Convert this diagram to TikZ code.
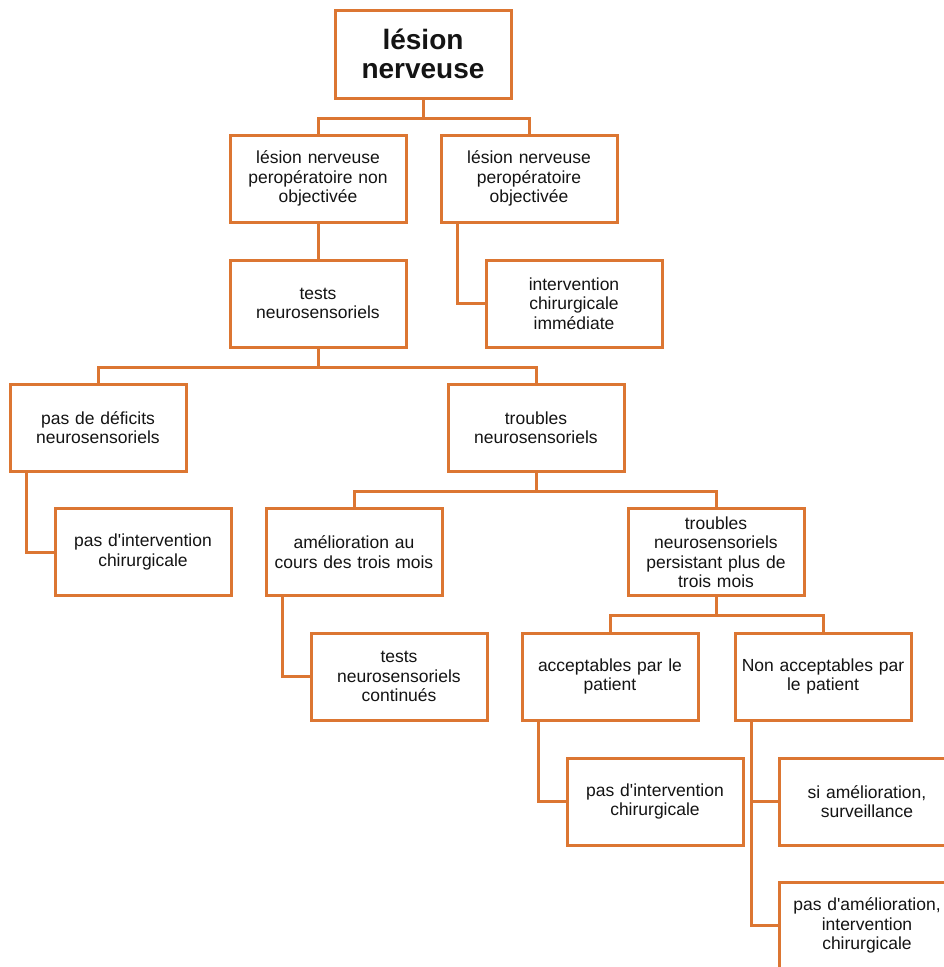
\documentclass[tikz,border=0pt]{standalone}
\usepackage{fontspec}
\setmainfont{Liberation Sans}
\definecolor{lineor}{RGB}{220,118,50}
\definecolor{txt}{RGB}{20,20,20}
\newcommand{\apos}{\textquotesingle}
\tikzset{
  box/.style={draw=lineor, line width=3pt, fill=white, minimum width=176pt, minimum height=87pt,
    inner sep=0pt, align=center, text=txt, font=\fontsize{17.5pt}{19.5pt}\selectfont, text width=174pt},
  rootbox/.style={box, font=\bfseries\fontsize{28pt}{29pt}\selectfont, minimum height=88pt},
  conn/.style={draw=lineor, line width=3pt}
}
\begin{document}
\begin{tikzpicture}[x=1pt,y=-1pt]
\useasboundingbox[fill=white] (0,0) rectangle (943,967);
\node[rootbox] (n1) at (423,54) {lésion\\nerveuse};
\node[box] (n2) at (318,178.5) {lésion nerveuse\\peropératoire non\\objectivée};
\node[box] (n3) at (529,178.5) {lésion nerveuse\\peropératoire\\objectivée};
\node[box] (n4) at (318,303.5) {tests\\neurosensoriels};
\node[box] (n5) at (574,303.5) {intervention\\chirurgicale\\immédiate};
\node[box] (n6) at (98,427.5) {pas de déficits\\neurosensoriels};
\node[box] (n7) at (536,427.5) {troubles\\neurosensoriels};
\node[box] (n8) at (143,552) {pas d\apos intervention\\chirurgicale};
\node[box] (n9) at (354,552) {amélioration au\\cours des trois mois};
\node[box] (n10) at (716,552) {troubles\\neurosensoriels\\persistant plus de\\trois mois};
\node[box] (n11) at (399,676.5) {tests\\neurosensoriels\\continués};
\node[box] (n12) at (610,676.5) {acceptables par le\\patient};
\node[box] (n13) at (823,676.5) {Non acceptables par\\le patient};
\node[box] (n14) at (655,801.5) {pas d\apos intervention\\chirurgicale};
\node[box] (n15) at (867,801.5) {si amélioration,\\surveillance};
\node[box] (n16) at (867,925.5) {pas d\apos amélioration,\\intervention\\chirurgicale};
% tree connectors
\draw[conn] (n1.south) -- ++(0,18.5) -| (n2.north);
\draw[conn] (n1.south) -- ++(0,18.5) -| (n3.north);
\draw[conn] (n2.south) -- (n4.north);
\draw[conn] (n4.south) -- ++(0,18.5) -| (n6.north);
\draw[conn] (n4.south) -- ++(0,18.5) -| (n7.north);
\draw[conn] (n7.south) -- ++(0,18.5) -| (n9.north);
\draw[conn] (n7.south) -- ++(0,18.5) -| (n10.north);
\draw[conn] (n10.south) -- ++(0,18.5) -| (n12.north);
\draw[conn] (n10.south) -- ++(0,18.5) -| (n13.north);
% side connectors
\draw[conn] ([xshift=18pt]n3.south west) |- (n5.west);
\draw[conn] ([xshift=18pt]n6.south west) |- (n8.west);
\draw[conn] ([xshift=18pt]n9.south west) |- (n11.west);
\draw[conn] ([xshift=18pt]n12.south west) |- (n14.west);
\draw[conn] ([xshift=18pt]n13.south west) |- (n15.west);
\draw[conn] ([xshift=18pt]n13.south west) |- (n16.west);
\end{tikzpicture}
\end{document}
